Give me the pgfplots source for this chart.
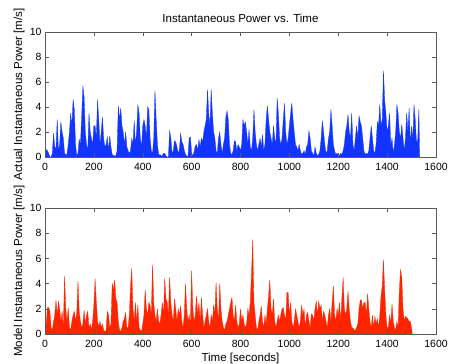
\documentclass[border=0pt]{standalone}
\usepackage{fontspec}
\setmainfont{Liberation Sans}
\usepackage{pgfplots}
\pgfplotsset{compat=1.18}
\definecolor{mblue}{RGB}{18,52,255}
\definecolor{mred}{RGB}{255,36,0}
\definecolor{axgray}{RGB}{90,90,90}
\pgfplotsset{
  mystyle/.style={
    scale only axis, width=391bp,
    xmin=0, xmax=1600, ymin=0, ymax=10,
    xtick={0,200,...,1600}, ytick={0,2,...,10},
    tick align=inside, major tick length=4bp,
    xtick pos=both, ytick pos=both,
    axis line style={axgray, line width=0.6pt},
    every tick/.style={axgray, line width=0.5pt},
    /pgf/number format/assume math mode=true,
    /pgf/number format/1000 sep={},
    tick label style={font=\fontsize{10.5}{12}\selectfont, text=black},
    xticklabel style={yshift=-2.5bp},
    label style={font=\fontsize{11.6}{13}\selectfont},
    ylabel style={at={(axis description cs:-0.0588,0.5)}, anchor=base, rotate=0},
    scaled ticks=false,
    axis on top,
    clip=true,
  }
}
\begin{document}
\begin{tikzpicture}
\path[use as bounding box] (0,0) rectangle (450bp,-364bp);
\begin{axis}[mystyle, height=125bp, at={(45bp,-32bp)}, anchor=north west,
  title={Instantaneous Power vs. Time},
  title style={font=\fontsize{11.6}{13}\selectfont, at={(axis description cs:0.5,1)}, anchor=base, yshift=4bp},
  ylabel={Actual Instantaneous Power [m/s]}]
\addplot[fill=mblue, draw=mblue, line width=0.3pt] coordinates {
(0,0.2)(5,0.6)(10,0.5)(15,0.3)(20,0)(25,0)(30,0.3)(35,1.9)(40,0.8)(45,0.7)
(50,3.0)(55,0.5)(60,1.0)(65,2.8)(70,2.0)(75,1.5)(80,0.3)(85,0.2)(90,0.2)(95,1.0)
(100,2.0)(105,3.5)(110,2.5)(115,4.6)(120,3.8)(125,1.0)(130,0.1)(135,0.3)(140,1.4)(145,1.0)
(150,3.2)(155,5.7)(160,4.8)(165,2.0)(170,1.0)(175,0.5)(180,3.5)(185,2.0)(190,1.5)(195,1.0)
(200,2.5)(205,2.5)(210,1.5)(215,4.6)(220,3.0)(225,1.0)(230,2.0)(235,3.2)(240,1.5)(245,0.8)
(250,1.0)(255,1.6)(260,0.5)(265,1.7)(270,0.8)(275,0.2)(280,0.1)(285,0.1)(290,0.1)(295,0.5)
(300,4.1)(305,3.0)(310,3.9)(315,2.5)(320,2.0)(325,1.0)(330,2.0)(335,0.8)(340,0.5)(345,0.3)
(350,0.5)(355,1.5)(360,1.0)(365,2.9)(370,1.0)(375,2.0)(380,4.2)(385,3.5)(390,1.5)(395,0.8)
(400,2.5)(405,3.0)(410,2.5)(415,1.5)(420,4.0)(425,3.8)(430,1.5)(435,0.5)(440,0.3)(445,1.5)
(450,5.3)(455,3.0)(460,1.0)(465,0.2)(470,0.2)(475,0.1)(480,0.1)(485,0.3)(490,0.3)(495,0.1)
(500,0)(505,0)(510,2.1)(515,1.5)(520,0.3)(525,0.5)(530,1.3)(535,1.2)(540,0.8)(545,0.3)
(550,0.6)(555,1.9)(560,1.2)(565,1.0)(570,0.5)(575,0.2)(580,0.1)(585,0)(590,1.5)(595,1.6)
(600,0.3)(605,0.1)(610,0.4)(615,0.9)(620,1.0)(625,0.5)(630,1.4)(635,0.8)(640,1.5)(645,1.2)
(650,2.0)(655,2.5)(660,3.0)(665,5.4)(670,3.5)(675,2.5)(680,5.4)(685,3.5)(690,2.0)(695,1.5)
(700,0.5)(705,0.3)(710,1.5)(715,2.0)(720,1.0)(725,0.3)(730,1.0)(735,1.5)(740,3.2)(745,3.7)
(750,3.0)(755,1.0)(760,0.3)(765,0.2)(770,0.5)(775,1.3)(780,1.2)(785,0.5)(790,1.0)(795,0.8)
(800,0.5)(805,1.0)(810,3.0)(815,2.5)(820,2.8)(825,2.0)(830,1.0)(835,2.2)(840,0.8)(845,0.5)
(850,1.5)(855,3.8)(860,2.0)(865,1.0)(870,0.5)(875,1.0)(880,1.5)(885,0.8)(890,1.8)(895,0.5)
(900,1.0)(905,3.0)(910,4.1)(915,3.0)(920,2.0)(925,1.5)(930,1.0)(935,2.5)(940,1.5)(945,1.0)
(950,4.7)(955,3.5)(960,1.5)(965,1.0)(970,1.5)(975,3.0)(980,4.3)(985,2.0)(990,1.0)(995,1.5)
(1000,2.5)(1005,3.5)(1010,4.3)(1015,3.0)(1020,2.0)(1025,1.0)(1030,0.8)(1035,0.5)(1040,1.0)(1045,0.5)
(1050,0.2)(1055,0.3)(1060,0.5)(1065,0.2)(1070,0.8)(1075,1.0)(1080,2.1)(1085,1.5)(1090,0.5)(1095,0.3)
(1100,0.1)(1105,0.8)(1110,0.3)(1115,0.1)(1120,0.2)(1125,0.5)(1130,1.5)(1135,2.9)(1140,2.0)(1145,1.0)
(1150,0.3)(1155,0.5)(1160,1.5)(1165,2.0)(1170,3.8)(1175,2.5)(1180,1.0)(1185,0.5)(1190,0.2)(1195,0.3)
(1200,0.2)(1205,0.1)(1210,0.3)(1215,0.2)(1220,0.5)(1225,1.0)(1230,2.0)(1235,2.5)(1240,3.4)(1245,2.0)
(1250,1.5)(1255,3.5)(1260,1.0)(1265,0.5)(1270,1.5)(1275,2.5)(1280,1.5)(1285,3.3)(1290,2.8)(1295,2.5)
(1300,1.5)(1305,0.5)(1310,0.2)(1315,0.3)(1320,0.2)(1325,0.5)(1330,1.5)(1335,2.5)(1340,1.5)(1345,0.5)
(1350,0.3)(1355,1.0)(1360,2.8)(1365,2.5)(1370,4.2)(1375,2.5)(1380,3.0)(1385,6.9)(1390,4.5)(1395,3.5)
(1400,2.0)(1405,2.5)(1410,3.5)(1415,1.0)(1420,1.5)(1425,0.3)(1430,1.0)(1435,2.0)(1440,4.2)(1445,3.5)
(1450,2.0)(1455,1.5)(1460,2.6)(1465,1.5)(1470,0.5)(1475,1.5)(1480,3.5)(1485,2.0)(1490,3.9)(1495,1.0)
(1500,2.5)(1505,1.3)(1510,4.2)(1515,3.0)(1520,1.2)(1525,1.3)(1530,3.8)(1533,0)
} \closedcycle;
\end{axis}
\begin{axis}[mystyle, height=126bp, at={(45bp,-208bp)}, anchor=north west,
  xlabel={Time [seconds]},
  xlabel style={at={(axis description cs:0.5,0)}, anchor=base, yshift=-27.5bp},
  ylabel={Model Instantaneous Power [m/s]}]
\addplot[fill=mred, draw=mred, line width=0.3pt] coordinates {
(0,0.3)(5,0.8)(10,2.1)(15,2.1)(20,1.8)(25,0.5)(30,0.3)(35,1.0)(40,1.5)(45,2.7)
(50,1.5)(55,2.6)(60,2.0)(65,1.0)(70,1.8)(75,0.5)(80,4.6)(85,2.0)(90,1.0)(95,2.1)
(100,0.5)(105,0.3)(110,1.0)(115,1.5)(120,1.8)(125,1.0)(130,1.7)(135,4.2)(140,1.8)(145,1.0)
(150,0.5)(155,0.8)(160,1.9)(165,0.8)(170,1.5)(175,1.8)(180,0.5)(185,0.8)(190,0.3)(195,1.0)
(200,2.3)(205,4.4)(210,2.6)(215,1.0)(220,0.6)(225,1.0)(230,0.5)(235,0.8)(240,0.3)(245,0.2)
(250,0.3)(255,1.8)(260,1.5)(265,0.5)(270,0.8)(275,4.0)(280,3.5)(285,4.3)(290,2.8)(295,2.5)
(300,1.0)(305,0.3)(310,0.2)(315,0.5)(320,1.0)(325,1.2)(330,1.7)(335,0.5)(340,0.5)(345,1.5)
(350,3.8)(355,5.2)(360,2.0)(365,1.0)(370,2.5)(375,1.0)(380,2.3)(385,0.5)(390,0.3)(395,0.2)
(400,0.8)(405,1.5)(410,3.5)(415,2.0)(420,1.5)(425,2.5)(430,2.3)(435,1.5)(440,5.5)(445,2.5)
(450,1.5)(455,1.0)(460,2.0)(465,1.0)(470,0.8)(475,1.5)(480,2.5)(485,1.5)(490,4.4)(495,2.8)
(500,2.5)(505,1.5)(510,4.5)(515,2.5)(520,1.5)(525,1.0)(530,2.8)(535,2.0)(540,1.0)(545,2.0)
(550,1.5)(555,2.2)(560,1.0)(565,0.5)(570,1.5)(575,4.0)(580,2.0)(585,1.0)(590,1.5)(595,0.8)
(600,5.0)(605,2.0)(610,1.0)(615,1.5)(620,3.0)(625,1.5)(630,2.5)(635,1.0)(640,2.9)(645,1.5)
(650,0.5)(655,1.0)(660,1.5)(665,2.0)(670,1.0)(675,0.5)(680,1.5)(685,1.0)(690,2.3)(695,1.5)
(700,4.1)(705,2.0)(710,1.0)(715,4.0)(720,2.0)(725,1.0)(730,0.5)(735,0.3)(740,0.8)(745,1.0)
(750,1.5)(755,2.0)(760,2.5)(765,2.9)(770,1.5)(775,1.0)(780,2.3)(785,1.0)(790,0.5)(795,0.8)
(800,2.0)(805,1.0)(810,1.5)(815,0.8)(820,0.5)(825,0.8)(830,2.0)(835,1.5)(840,2.5)(845,4.8)
(850,7.5)(855,2.5)(860,1.5)(865,0.5)(870,0.3)(875,1.0)(880,1.5)(885,2.2)(890,1.0)(895,0.5)
(900,1.5)(905,0.8)(910,2.0)(915,3.0)(920,4.3)(925,2.0)(930,1.5)(935,2.8)(940,1.0)(945,0.5)
(950,1.0)(955,1.5)(960,1.0)(965,1.5)(970,2.0)(975,2.1)(980,1.5)(985,1.0)(990,3.3)(995,3.3)
(1000,1.5)(1005,2.5)(1010,1.0)(1015,0.5)(1020,1.0)(1025,2.0)(1030,1.5)(1035,1.0)(1040,0.5)(1045,1.0)
(1050,2.3)(1055,1.5)(1060,2.0)(1065,0.5)(1070,1.5)(1075,1.7)(1080,1.0)(1085,0.5)(1090,1.6)(1095,1.5)
(1100,1.0)(1105,2.0)(1110,2.6)(1115,1.5)(1120,2.6)(1125,2.0)(1130,2.3)(1135,1.0)(1140,1.8)(1145,1.5)
(1150,1.0)(1155,0.5)(1160,1.5)(1165,2.0)(1170,1.0)(1175,2.5)(1180,3.8)(1185,1.5)(1190,1.0)(1195,2.0)
(1200,1.5)(1205,2.5)(1210,1.0)(1215,2.9)(1220,4.5)(1225,2.0)(1230,1.5)(1235,2.0)(1240,3.4)(1245,2.0)
(1250,1.0)(1255,0.5)(1260,0.5)(1265,0.3)(1270,0.3)(1275,0.5)(1280,0.8)(1285,2.0)(1290,2.7)(1295,2.7)
(1300,2.0)(1305,2.5)(1310,2.5)(1315,1.5)(1320,3.2)(1325,2.0)(1330,1.0)(1335,0.5)(1340,1.5)(1345,0.5)
(1350,1.4)(1355,0.8)(1360,1.2)(1365,0.5)(1370,1.5)(1375,3.0)(1380,3.8)(1385,5.9)(1390,3.5)(1395,1.5)
(1400,0.5)(1405,0.5)(1410,1.5)(1415,0.8)(1420,2.4)(1425,1.0)(1430,0.5)(1435,0.3)(1440,1.0)(1445,0.5)
(1450,3.5)(1455,5.1)(1460,4.5)(1465,2.0)(1470,1.0)(1475,1.4)(1480,1.3)(1485,1.2)(1490,1.0)(1495,1.0)
(1500,0.5)(1503,0)
} \closedcycle;
\end{axis}
\end{tikzpicture}
\end{document}
